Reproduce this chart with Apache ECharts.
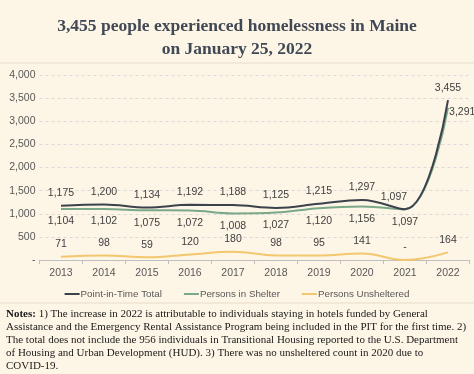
<!DOCTYPE html>
<html><head><meta charset="utf-8">
<script src="https://cdn.jsdelivr.net/npm/echarts@6/dist/echarts.min.js"></script>
<style>html,body{margin:0;padding:0;background:#fdf5e6;}#c{width:474px;height:374px;}</style>
</head><body><div id="c"></div>
<script>
const years = ['2013','2014','2015','2016','2017','2018','2019','2020','2021','2022'];
const pitTotal = [1175,1200,1134,1192,1188,1125,1215,1297,1097,3455];
const inShelter = [1104,1102,1075,1072,1008,1027,1120,1156,1097,3291];
const unsheltered = [71,98,59,120,180,98,95,141,0,164];
const seriesNames = ['Point-in-Time Total','Persons in Shelter','Persons Unsheltered'];
const titleLines = ['3,455 people experienced homelessness in Maine','on January 25, 2022'];
const noteLines = [
  'The increase in 2022 is attributable to individuals staying in hotels funded by General',
  'Assistance and the Emergency Rental Assistance Program being included in the PIT for the first time. 2)',
  'The total does not include the 956 individuals in Transitional Housing reported to the U.S. Department',
  'of Housing and Urban Development (HUD). 3) There was no unsheltered count in 2020 due to',
  'COVID-19.'
];

const fmt = v => v === 0 ? '-' : v.toLocaleString('en-US');
const sans = 'Liberation Sans, Arial, sans-serif';
const serif = 'Liberation Serif, Times New Roman, serif';
const lblStyle = {color:'#404040', fontSize:10.5, fontFamily:sans};

const chart = echarts.init(document.getElementById('c'), null, {renderer:'canvas'});
chart.setOption({
  backgroundColor:'#fdf5e6',
  animation:false,
  title:{
    text: titleLines.join('\n'),
    left:'center', top:10,
    textStyle:{fontFamily:serif, fontWeight:'bold', fontSize:17.5, color:'#414955', lineHeight:23}
  },
  grid:{left:39.5, right:4.5, top:75, bottom:114},
  legend:{
    top:284, left:'center',
    icon:'rect', itemWidth:15, itemHeight:2, itemGap:22,
    textStyle:{color:'#595959', fontSize:9.8, fontFamily:sans, padding:[0,0,0,-4]},
    data: seriesNames
  },
  xAxis:{
    type:'category', data:years, boundaryGap:true,
    axisLine:{lineStyle:{color:'#bfbfbf'}},
    axisTick:{show:true, alignWithLabel:false, length:4, lineStyle:{color:'#bfbfbf'}},
    axisLabel:{color:'#595959', fontSize:10.5, margin:8, fontFamily:sans}
  },
  yAxis:{
    type:'value', min:0, max:4000, interval:500,
    axisLine:{show:false}, axisTick:{show:false},
    axisLabel:{color:'#595959', fontSize:10.5, margin:4, fontFamily:sans, formatter:v=>fmt(v)},
    splitLine:{lineStyle:{color:'#d9d9d9', type:[3,3]}}
  },
  series:[
    {name:seriesNames[0], type:'line', smooth:0.4, symbol:'circle', symbolSize:0.1, showSymbol:true, showAllSymbol:true,
     data: pitTotal.map((v,i)=> i===8 ? {value:v, label:{offset:[-11,0]}} : v),
     lineStyle:{color:'#3b424c', width:2}, itemStyle:{color:'#3b424c'}, z:3,
     label:{show:true, position:'top', distance:7, formatter:p=>fmt(p.value), ...lblStyle}},
    {name:seriesNames[1], type:'line', smooth:0.4, symbol:'circle', symbolSize:0.1, showSymbol:true, showAllSymbol:true,
     data: inShelter.map((v,i)=> i===9 ? {value:v, label:{position:'right', distance:1, offset:[0,4]}} : v),
     lineStyle:{color:'#7aa888', width:2}, itemStyle:{color:'#7aa888'}, z:2,
     label:{show:true, position:'bottom', distance:7, formatter:p=>fmt(p.value), ...lblStyle}},
    {name:seriesNames[2], type:'line', smooth:0.4, symbol:'circle', symbolSize:0.1, showSymbol:true, showAllSymbol:true,
     data:unsheltered,
     lineStyle:{color:'#f2c76e', width:2}, itemStyle:{color:'#f2c76e'}, z:1,
     label:{show:true, position:'top', distance:7, formatter:p=>fmt(p.value), ...lblStyle}}
  ],
  graphic:[
    {type:'line', shape:{x1:0,y1:63,x2:474,y2:63}, style:{stroke:'#e6dccb', lineWidth:1}},
    {type:'line', shape:{x1:0,y1:303,x2:474,y2:303}, style:{stroke:'#e6dccb', lineWidth:1}},
    {type:'text', left:6, top:308,
     style:{
       text: '{b|Notes:} 1) ' + noteLines.join('\n'),
       rich:{b:{fontWeight:'bold', fontFamily:serif, fontSize:11, fill:'#1a1a1a'}},
       fontFamily:serif, fontSize:11, lineHeight:13, fill:'#1a1a1a'
     }}
  ]
});
</script></body></html>
